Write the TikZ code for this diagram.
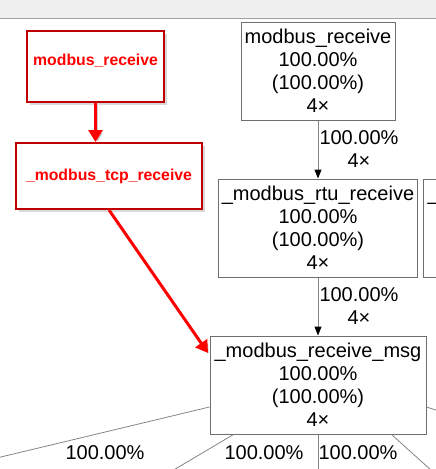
\documentclass[tikz,border=0pt]{standalone}
\usepackage{fontspec}
\setmainfont{Liberation Sans}
\usetikzlibrary{arrows.meta,shadows}
\definecolor{bandgray}{HTML}{F0F0F0}
\definecolor{bandline}{HTML}{A0A0A0}
\definecolor{boxgray}{HTML}{6E6E6E}
\definecolor{edgegray}{HTML}{858585}
\definecolor{notered}{HTML}{C00000}
\definecolor{notetext}{HTML}{FF0000}
\begin{document}
\begin{tikzpicture}[x=1pt,y=-1pt,
    fn/.style={draw=boxgray, line width=1pt, fill=white, align=center, inner sep=0pt,
        font=\fontsize{20}{23}\selectfont, minimum height=98pt},
    elabel/.style={font=\fontsize{20}{23}\selectfont, align=center, inner sep=1pt},
    call/.style={draw=edgegray, line width=1pt, -{Triangle[length=9pt,width=7pt,color=black]}},
    edge/.style={draw=edgegray, line width=0.8pt},
    note/.style={draw=notered, line width=2pt, fill=white, inner sep=0pt, text=notetext,
        font=\fontsize{15.8}{18}\selectfont\bfseries,
        drop shadow={shadow xshift=3pt, shadow yshift=-3pt, opacity=0.3}},
    redarrow/.style={draw=notetext, line width=3pt, -{Triangle[length=12pt,width=14pt]},
        preaction={draw=black!22, transform canvas={xshift=2pt,yshift=-2pt}}}]

    \useasboundingbox (0,0) rectangle (436,469);
    \clip (0,0) rectangle (436,469);
    \fill[bandgray] (0,0) rectangle (436,18);
    \draw[bandline, line width=1pt] (0,18) -- (436,18);

    % call graph
    \node[fn, minimum width=154pt] (R) at (318,71) {modbus\_receive\\100.00\%\\(100.00\%)\\4×};
    \node[fn, minimum width=199pt] (T) at (318,228) {\_modbus\_rtu\_receive\\100.00\%\\(100.00\%)\\4×};
    \node[fn, minimum width=120pt, anchor=west, text width=112pt, align=left,
        text height=15pt, text depth=70pt] (T2) at (423,228) {\_};
    \node[fn, minimum width=216pt] (M) at (318,385) {\_modbus\_receive\_msg\\100.00\%\\(100.00\%)\\4×};

    \draw[call] (R) -- node[elabel, right] {100.00\%\\4×} (T);
    \draw[call] (T) -- node[elabel, right] {100.00\%\\4×} (M);

    \coordinate (E1) at (-20,462);
    \coordinate (E2) at (150,484);
    \coordinate (E3) at (318,490);
    \coordinate (E4) at (452,489);
    \coordinate (E5) at (470,421);
    \draw[edge] ([yshift=-22pt]M.west) -- (E1);
    \draw[edge] ([xshift=24pt]M.south west) -- (E2);
    \draw[edge] (M.south) -- (E3);
    \draw[edge] ([xshift=-35pt]M.south east) -- (E4);
    \draw[edge] ([yshift=-22pt]M.east) -- (E5);

    \node[elabel] (L1) at (105,453) {100.00\%};
    \node[elabel] (L2) at (264,453) {100.00\%};
    \node[elabel] (L3) at (358,453) {100.00\%};

    % notes
    \node[note, minimum width=137pt, minimum height=71pt, text height=11pt, text depth=13pt] (A1) at (95.5,66.5) {modbus\_receive};
    \node[note, minimum width=186pt, minimum height=66pt] (A2) at (109,176) {\_modbus\_tcp\_receive};
    \coordinate (P) at (208,353);

    \draw[redarrow] (A1.south) -- (A1.south |- A2.north);
    \draw[redarrow] (A2.south) -- (P);

\end{tikzpicture}
\end{document}
